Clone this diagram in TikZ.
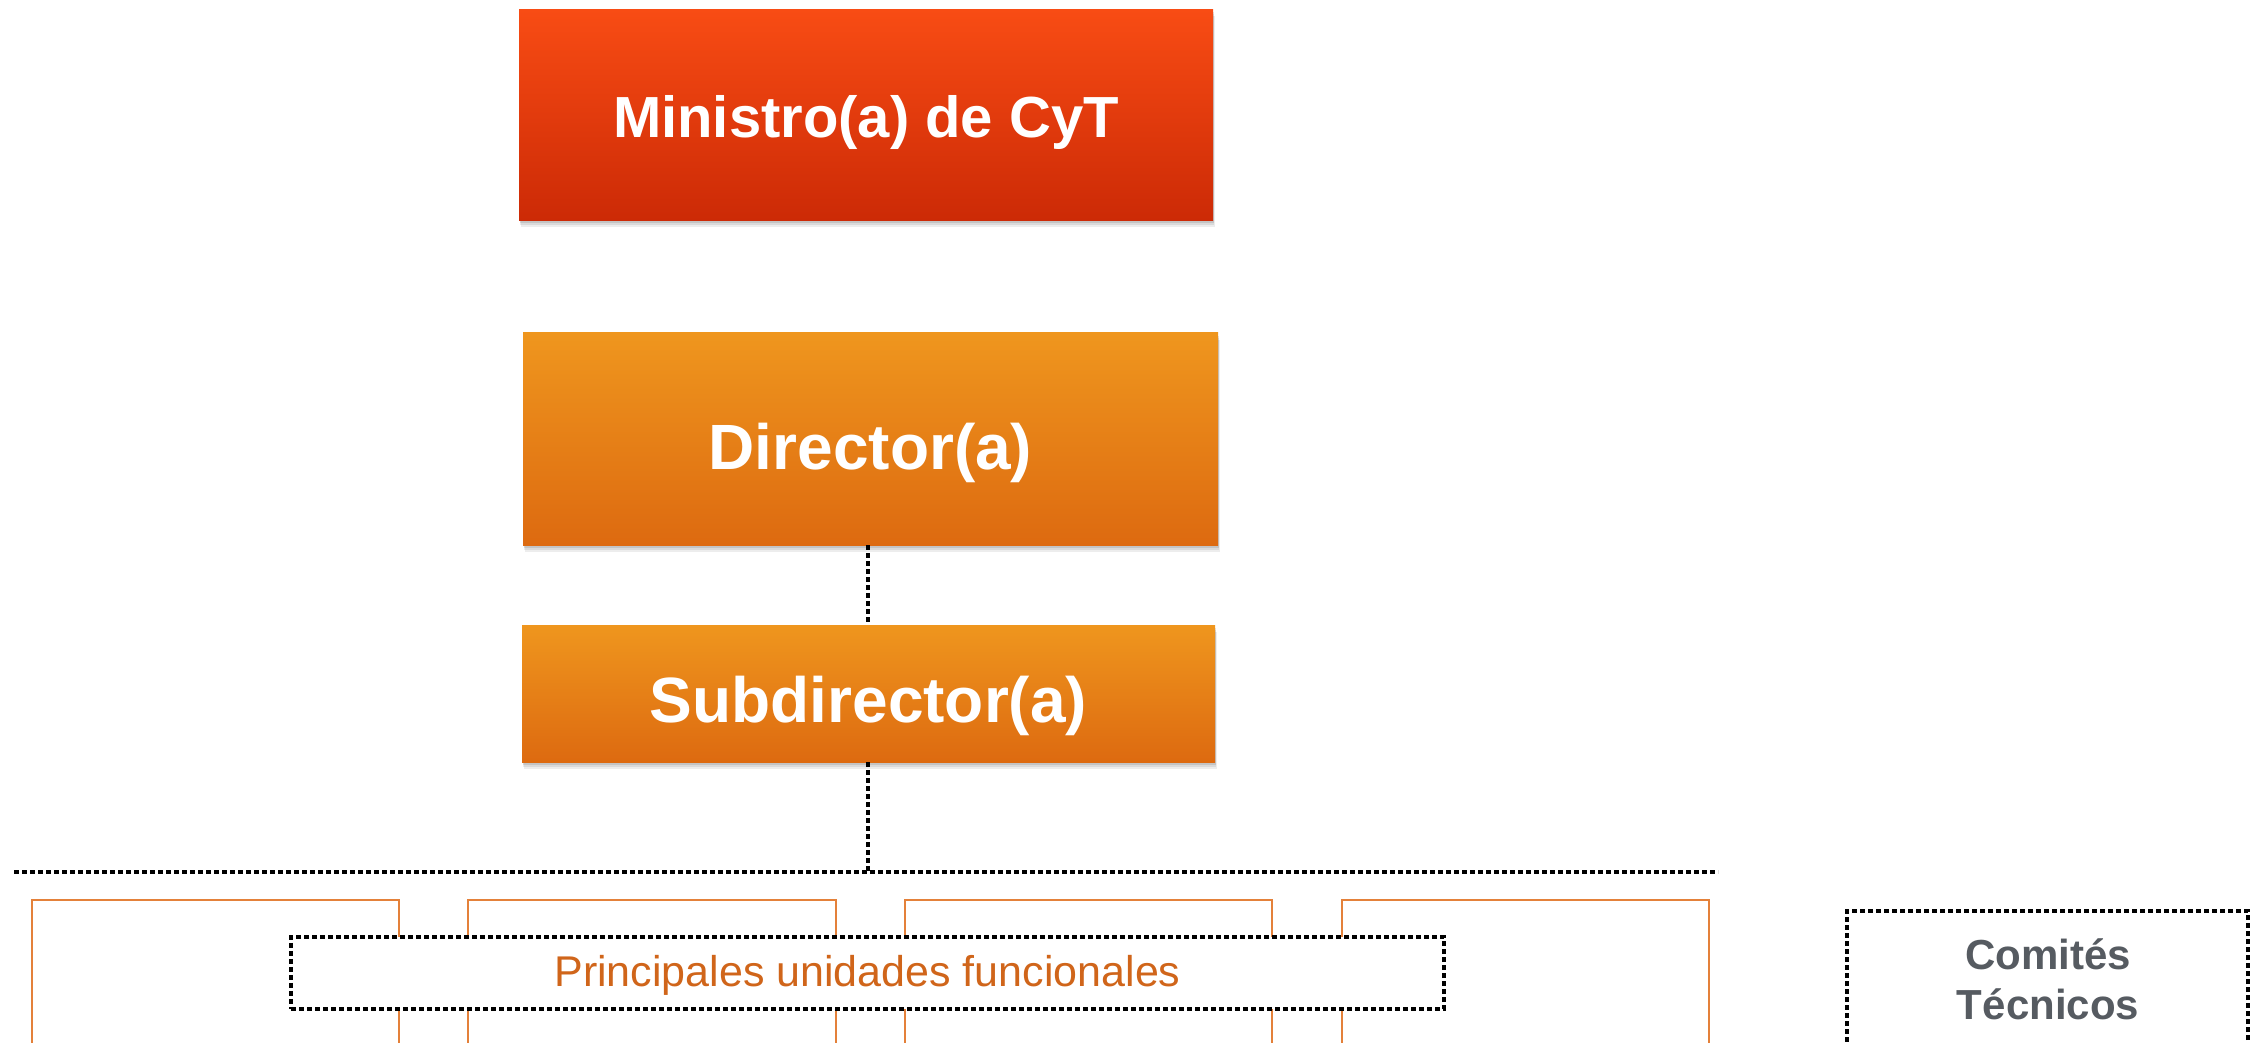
\documentclass[tikz,border=0pt]{standalone}
\usepackage{fontspec}
\setmainfont{Liberation Sans}
\definecolor{minTop}{HTML}{F84C14}
\definecolor{minBot}{HTML}{CC2A06}
\definecolor{dirTop}{HTML}{EF961E}
\definecolor{dirBot}{HTML}{DD6A10}
\definecolor{unitLine}{HTML}{E4813A}
\definecolor{unitText}{HTML}{D0651A}
\definecolor{ctGrey}{HTML}{565B61}
\tikzset{
  boxshadow/.style={
    preaction={fill=black, fill opacity=0.07, transform canvas={xshift=0.8pt, yshift=-3.5pt}},
    preaction={fill=black, fill opacity=0.08, transform canvas={xshift=0.6pt, yshift=-2.5pt}},
    preaction={fill=black, fill opacity=0.10, transform canvas={xshift=0.4pt, yshift=-1.5pt}}},
  minbox/.style={boxshadow, top color=minTop, bottom color=minBot, text=white, font=\bfseries\fontsize{29}{34}\selectfont, inner sep=0pt, text depth=0pt},
  dirbox/.style={boxshadow, top color=dirTop, bottom color=dirBot, text=white, font=\bfseries\fontsize{32}{38}\selectfont, inner sep=0pt, text depth=0pt},
  conn/.style={draw=black, line width=1.7pt, dash pattern=on 2.3pt off 1.7pt},
  unitbox/.style={draw=unitLine, line width=0.7pt, fill=none, inner sep=0pt},
  dashbox/.style={draw=black, line width=1.7pt, dash pattern=on 2.3pt off 1.7pt, fill=white, inner sep=0pt},
}
\begin{document}
\begin{tikzpicture}[x=0.5pt,y=-0.5pt]
\useasboundingbox (0,0) rectangle (2260,1043);
\clip (0,0) rectangle (2260,1043);
% top boxes
\node[minbox, text height=22.5pt, minimum width=347pt, minimum height=105.5pt] (min) at (866,115) {Ministro(a) de CyT};
\node[dirbox, text height=30.5pt, minimum width=347.5pt, minimum height=106pt] (dir) at (870.5,439) {Director(a)};
\node[dirbox, text height=29pt, minimum width=346.5pt, minimum height=68.5pt] (sub) at (868.5,693.5) {Subdirector(a)};
% connectors
\coordinate (hlL) at (14,872);
\coordinate (hlR) at (1718,872);
\draw[conn] (dir.south -| 868,0) -- (sub.north -| 868,0);
\draw[conn] (sub.south -| 868,0) -- (868,872);
\draw[conn] (hlL) -- (hlR);
% functional units (open at the bottom of the picture)
\node[unitbox, minimum width=183.5pt, minimum height=110pt] (u1) at (215.5,1010) {};
\node[unitbox, minimum width=184pt, minimum height=110pt] (u2) at (652,1010) {};
\node[unitbox, minimum width=183.5pt, minimum height=110pt] (u3) at (1088.5,1010) {};
\node[unitbox, minimum width=183.5pt, minimum height=110pt] (u4) at (1525.5,1010) {};
% label box
\node[dashbox, minimum width=576.5pt, minimum height=36pt] (puf) at (867.5,973) {};
\node[text=unitText, font=\fontsize{21.5}{26}\selectfont] (puft) at (867.5,975) {Principales unidades funcionales};
% comites
\node[dashbox, fill=none, minimum width=200.5pt, minimum height=100pt] (ct) at (2047.5,1011) {};
\node[text=ctGrey, font=\bfseries\fontsize{21}{25}\selectfont, align=center] (ctt) at (2048,979) {Comités\\Técnicos};
\end{tikzpicture}
\end{document}
